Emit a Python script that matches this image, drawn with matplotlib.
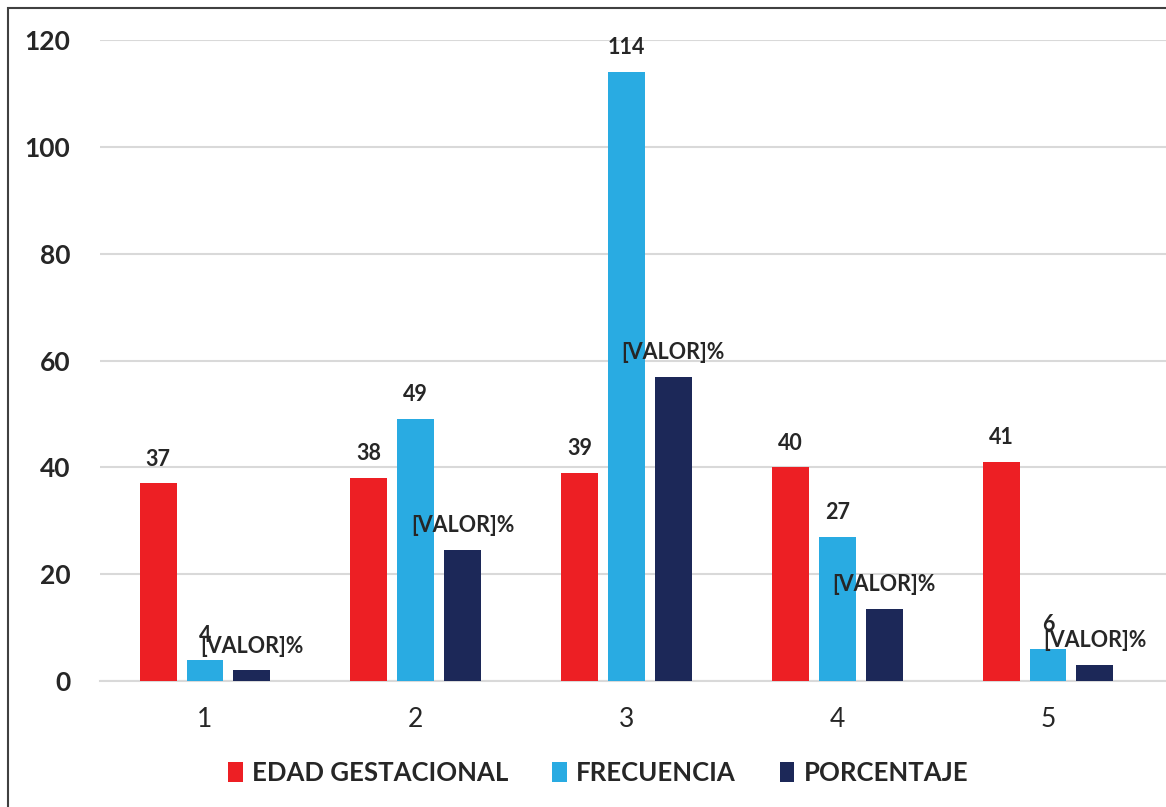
import matplotlib.pyplot as plt
import numpy as np
from matplotlib.patches import Rectangle

# gestational age groups and counts
categorias = ["1", "2", "3", "4", "5"]
edad_gestacional = [37, 38, 39, 40, 41]
frecuencia = [4, 49, 114, 27, 6]
porcentaje = [2, 24.5, 57, 13.5, 3]
series = ["EDAD GESTACIONAL", "FRECUENCIA", "PORCENTAJE"]
colores = ["#ED1F24", "#29ABE2", "#1C2858"]
y_ticks = [0, 20, 40, 60, 80, 100, 120]

plt.rcParams["font.family"] = ["Lato", "DejaVu Sans"]
TXT = "#262626"


def main():
    fig = plt.figure(figsize=(11.66, 8.07), dpi=100)
    ax = fig.add_axes([99.5 / 1166, 1 - 681 / 807, 1 - 99.5 / 1166, (681 - 40) / 807])

    x = np.arange(1, len(categorias) + 1)
    ancho = 37 / 211
    paso = 47 / 211
    valores = [edad_gestacional, frecuencia, porcentaje]

    for i, (vals, nombre, col) in enumerate(zip(valores, series, colores)):
        pos = x + (i - 1) * paso
        ax.bar(pos, vals, width=ancho, color=col, label=nombre, zorder=3)
        for px, v in zip(pos, vals):
            txt = "[VALOR]%" if i == 2 else "%g" % v
            ax.annotate(txt, (px, v), xytext=(0, 17.5), textcoords="offset points",
                        ha="center", va="center", fontsize=15.5, fontweight="bold",
                        color=TXT, zorder=5, annotation_clip=False)

    ax.set_xlim(0.4994, 5.56)
    ax.set_ylim(0, 120)
    ax.set_yticks(y_ticks)
    ax.set_xticks(x)
    ax.set_xticklabels(categorias)
    ax.grid(axis="y", color="#D9D9D9", linewidth=1.5, zorder=0)
    for s in ["top", "right", "left"]:
        ax.spines[s].set_visible(False)
    ax.spines["bottom"].set_color("#D9D9D9")
    ax.spines["bottom"].set_linewidth(1.5)
    ax.tick_params(axis="y", length=0, pad=21, labelsize=19, labelcolor=TXT)
    ax.tick_params(axis="x", length=0, pad=19, labelsize=19, labelcolor=TXT)
    for t in ax.get_yticklabels():
        t.set_fontweight("bold")

    fig.legend(loc="center", bbox_to_anchor=(0.513, 0.042), ncol=3, frameon=False,
               prop={"size": 18.5, "weight": "bold"}, handlelength=0.58, handleheight=0.8,
               handletextpad=0.35, columnspacing=1.7, labelcolor=TXT)

    # outer frame around the chart
    fig.patches.append(Rectangle((8 / 1166, -0.1), 1.2, 1.1 - 8 / 807,
                                 transform=fig.transFigure, fill=False,
                                 edgecolor="#404040", linewidth=1.5))

    fig.savefig("out.png", dpi=100)


if __name__ == "__main__":
    main()
